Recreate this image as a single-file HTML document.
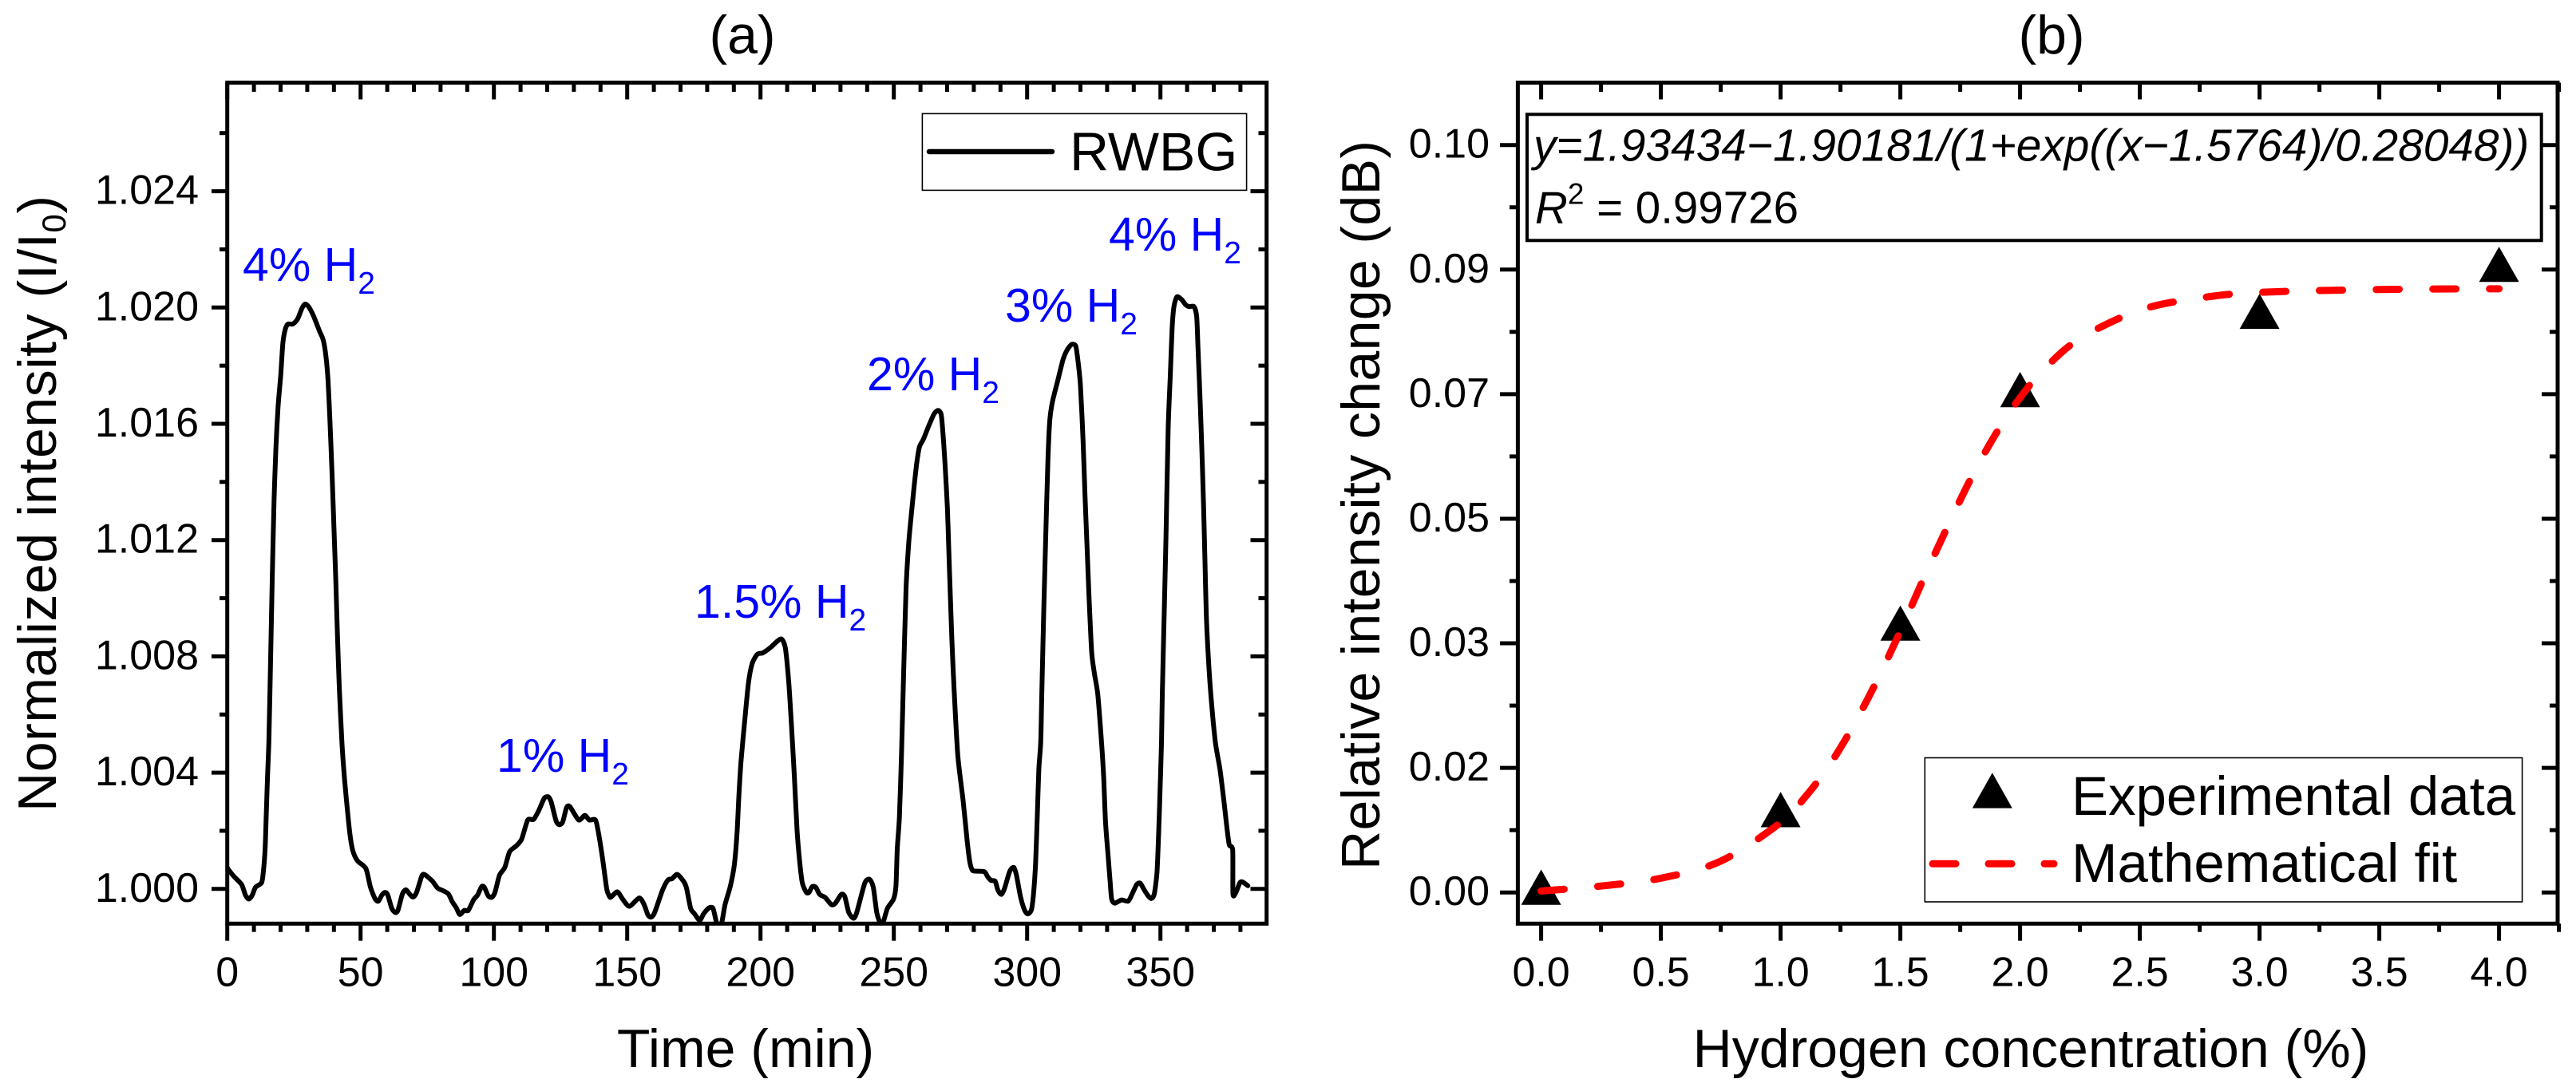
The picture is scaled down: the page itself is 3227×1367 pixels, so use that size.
<!DOCTYPE html>
<html lang="en">
<head>
<meta charset="utf-8">
<title>RWBG hydrogen response</title>
<style>
html,body{margin:0;padding:0;background:#fff;}
svg{display:block;}
text{font-family:"Liberation Sans",Arial,sans-serif;fill:#000;}
.tick{font-size:52px;}
.title{font-size:68px;}
.legend-text{font-size:69px;}
.blue{font-size:59px;fill:#0000ff;}
</style>
</head>
<body>
<svg id="chart" xmlns="http://www.w3.org/2000/svg" width="3227" height="1367" viewBox="0 0 3227 1367">
  <defs>
    <clipPath id="clip-a"><rect x="284.7" y="103.6" width="1302" height="1053.7"/></clipPath>
    <clipPath id="clip-b"><rect x="1901.4" y="103.6" width="1302.6" height="1053.7"/></clipPath>
  </defs>
  <rect x="0" y="0" width="3227" height="1367" fill="#fff"/>

  <g id="panel-a">
    <text class="title" x="930" y="67" text-anchor="middle">(a)</text>
    <g id="marks-a" clip-path="url(#clip-a)"></g>
    <g id="ticks-a"></g>
    <rect x="284.7" y="103.6" width="1302" height="1053.7" fill="none" stroke="#000" stroke-width="5"/>
    <text class="title" x="934" y="1337" text-anchor="middle">Time (min)</text>
    <text class="title" transform="translate(70 631) rotate(-90)" text-anchor="middle" textLength="772" lengthAdjust="spacing">Normalized intensity (I/I<tspan font-size="42" dy="12">0</tspan><tspan dy="-12">)</tspan></text>

    <text class="blue" x="304" y="352">4% H<tspan font-size="39" dy="16">2</tspan></text>
    <text class="blue" x="622" y="967">1% H<tspan font-size="39" dy="16">2</tspan></text>
    <text class="blue" x="870" y="774">1.5% H<tspan font-size="39" dy="16">2</tspan></text>
    <text class="blue" x="1086" y="489">2% H<tspan font-size="39" dy="16">2</tspan></text>
    <text class="blue" x="1259" y="403">3% H<tspan font-size="39" dy="16">2</tspan></text>
    <text class="blue" x="1389" y="314">4% H<tspan font-size="39" dy="16">2</tspan></text>

    <g>
      <rect x="1155.4" y="142.4" width="406.2" height="96" fill="none" stroke="#000" stroke-width="1.6"/>
      <line x1="1164" y1="190" x2="1318" y2="190" stroke="#000" stroke-width="6.5" stroke-linecap="round"/>
      <text class="title" x="1340" y="213.4">RWBG</text>
    </g>
  </g>

  <g id="panel-b">
    <text class="title" x="2570" y="67" text-anchor="middle">(b)</text>
    <g id="ticks-b"></g>
    <g id="marks-b" clip-path="url(#clip-b)"></g>
    <rect x="1901.4" y="103.6" width="1302.6" height="1053.7" fill="none" stroke="#000" stroke-width="5"/>
    <text class="title" x="2544" y="1337" text-anchor="middle">Hydrogen concentration (%)</text>
    <text class="title" transform="translate(1728 633) rotate(-90)" text-anchor="middle" textLength="914" lengthAdjust="spacing">Relative intensity change (dB)</text>

    <g>
      <rect x="1913" y="143.3" width="1270.7" height="158" fill="none" stroke="#000" stroke-width="4"/>
      <text x="1921" y="201.7" font-size="56.8" font-style="italic">y=1.93434−1.90181/(1+exp((x−1.5764)/0.28048))</text>
      <text x="1923" y="279.3" font-size="56.5"><tspan font-style="italic">R</tspan><tspan font-size="37" dy="-24">2</tspan><tspan dy="24"> = 0.99726</tspan></text>
    </g>

    <g>
      <rect x="2411.3" y="949.5" width="748.3" height="180.5" fill="none" stroke="#000" stroke-width="1.6"/>
      <polygon points="2495.8,968.3 2470.8,1012.6 2520.8,1012.6" fill="#000"/>
      <text class="legend-text" x="2595" y="1021">Experimental data</text>
      <line x1="2421" y1="1082.3" x2="2573" y2="1082.3" stroke="#ff0000" stroke-width="9" stroke-linecap="round" stroke-dasharray="29 41"/>
      <text class="legend-text" x="2595" y="1105">Mathematical fit</text>
    </g>
  </g>
</svg>

<script>
/* ---------- panel (a) data ---------- */
const rwbgTime = [
0,0.4,2.6,5.4,6.8,8.1,9.4,10.6,12.9,13.6,14.2,14.6,15.1,15.6,
16.05,16.86,17.55,18.26,19.05,20.05,20.85,21.75,22.75,24.55,26.35,28.05,29.2,30.5,32.35,34.5,36,37,37.8,38.5,39.3,40,40.7,41.3,42,
43,44,45.5,46.5,47.5,49,52,53.7,55.5,56.7,58,59.2,60.2,61.7,63,64,65.7,67,68.5,69.7,71,73,74.1,76.9,78.9,80.9,82.9,84.4,85.9,87.2,88.9,90.4,92.4,93.9,95.4,96.4,97.9,99.2,100.4,
102.1,104.1,105.9,108.4,110.4,112.7,114.9,116.9,118.9,120.4,121.5,123.3,124.5,125.8,127.3,128.6,131.8,134.1,135.8,138.1,139.3,140.8,142.3,143.1,143.8,146.3,148.3,
150.8,154.5,156.3,157.8,159,160.3,163.3,165.3,166.8,168.8,171.3,172.3,173.8,175.2,177.2,178.7,180.7,182.2,183.4,184,185.4,186.7,188.7,190.2,191.2,191.9,192.7,
194.2,195.5,196.9,198.8,200.9,203.7,205.8,207.8,209.3,210.6,211.6,212.7,213.7,214.7,215.7,217.2,218.2,219.4,220.7,222.2,224.2,226.6,228.1,230.3,231.6,233.1,234.9,236.1,239.1,240.9,242.3,243.6,244.9,245.9,247.6,249.9,250.8,251.3,252.1,252.9,
253.6,254.6,255.6,256.6,257.6,258.6,259.6,261.1,263.1,265.1,266.6,267.8,268.6,269.3,270.1,270.6,271.1,271.8,272.6,
274,276,277.5,278.5,279.5,281,284,285.2,286.5,288,289,290.3,291.5,293.5,295,296,297.5,299,300.2,301.6,302.4,303.2,303.9,304.4,305.1,
305.5,306.2,307,307.8,308.5,309.5,311.5,313.5,315,316.7,318.2,319,320,321,321.7,322.5,323.2,324.2,325.2,326.5,
327.9,328.7,329.4,330.4,331.1,331.7,332.9,335.4,337.9,339.4,341.1,342.4,343.9,345.4,346.6,347.7,348.7,349.3,349.8,350.4,
350.7,351.4,352.1,352.9,353.7,354.4,355.1,356.2,357.9,359.4,360.7,362.6,363.6,364.1,364.9,365.6,366.2,366.7,367.2,367.9,368.9,
370.6,372.3,373.8,374.8,375.8,377.1,377.2,378.3,379.8,380.8,382.8
];
const rwbgIntensity = [
1.00074,1.00067,1.00042,1.00015,.99979,.99965,.99979,1.00006,1.00022,1.00065,1.00139,1.00248,1.00386,1.00505,
1.00697,1.01063,1.01337,1.0152,1.01658,1.01767,1.01877,1.01925,1.01943,1.01943,1.0196,1.01998,1.02012,1.02003,1.01971,1.01921,1.01888,1.01833,1.01749,1.01612,1.01429,1.01246,1.01063,1.00881,1.00697,
1.00505,1.00376,1.0023,1.00157,1.0012,1.00095,1.0007,1.00006,.99965,.99958,.99979,.99988,.99979,.99933,.99919,.99926,.99983,.99997,.99981,.99972,.99988,1.00045,1.00049,1.00027,1.00003,.99994,.99983,.99956,.99935,.99912,.99926,.99926,.99963,.99979,1.00008,1.00006,.99976,.99971,.99988,
1.00047,1.00074,1.00128,1.00148,1.00171,1.00237,1.00239,1.00271,1.00312,1.00317,1.00299,1.00235,1.00221,1.0023,1.00281,1.00282,1.00237,1.00253,1.00237,1.00237,1.00189,1.00102,1.00001,.99979,.99971,.9999,.99965,
.9994,.99969,.99947,.9991,.99903,.99919,.99997,1.00031,1.00035,1.0005,1.00024,1.00001,.99933,.99915,.99892,.99915,.99935,.99933,.99887,.99873,.99882,.99946,1.0001,1.00084,1.00193,1.00322,1.0044,
1.0059,1.0071,1.00776,1.00807,1.00812,1.0083,1.00848,1.0086,1.0083,1.0071,1.00565,1.00386,1.00203,1.00093,1.0002,.99988,.99988,1.00008,1.00006,.99981,.99971,.99946,.99951,.99981,.99974,.99919,.99899,.99919,1.0002,1.00033,1.00006,.99919,.99882,.99882,.99933,.99965,1.0001,1.00139,1.00248,1.00469,
1.00714,1.01035,1.01191,1.01291,1.01383,1.01465,1.0152,1.01547,1.01593,1.01634,1.01646,1.0163,1.01547,1.01447,1.0131,1.01172,1.01035,1.00852,1.00688,
1.00459,1.00303,1.00166,1.00093,1.00064,1.00061,1.00059,1.00042,1.00029,1.00027,.99997,.99981,1.00001,1.00061,1.00074,1.00047,.99974,.99928,.99914,.99928,.99983,1.00093,1.00276,1.00413,1.00505,
1.00669,1.00944,1.01218,1.01475,1.01612,1.01676,1.01749,1.01822,1.01854,1.01873,1.01868,1.01822,1.01731,1.01538,1.01355,1.01172,1.01008,1.00816,1.00743,1.00669,
1.00505,1.00386,1.0023,1.00111,1.00029,.99965,.99951,.99962,.99958,.99983,1.00015,1.0002,.99997,.99976,.99967,.99983,1.00056,1.00184,1.00322,1.00505,
1.00669,1.00944,1.01218,1.01584,1.01767,1.01932,1.02005,1.02037,1.02028,1.0201,1.02003,1.02003,1.01968,1.01859,1.01676,1.01493,1.0131,1.01127,1.00944,1.00807,1.00669,
1.00505,1.00413,1.00303,1.00221,1.00152,1.00134,.99983,.99988,1.00021,1.00024,1.00011
];
const xTicksA = [0,50,100,150,200,250,300,350];
const xTickLabelsA = ["0","50","100","150","200","250","300","350"];
const xMinorTicksA = [10,20,30,40,60,70,80,90,110,120,130,140,160,170,180,190,210,220,230,240,260,270,280,290,310,320,330,340,360,370,380];
const yTicksA = [1.000,1.004,1.008,1.012,1.016,1.020,1.024];
const yTickLabelsA = ["1.000","1.004","1.008","1.012","1.016","1.020","1.024"];
const yMinorTicksA = [1.002,1.006,1.010,1.014,1.018,1.022,1.026];

/* ---------- panel (b) data ---------- */
const concentration = [0,1,1.5,2,3,4];
const relativeChange = [0,0.0109,0.0371,0.0699,0.0809,0.0875];
const fitConcentration = [0,0.25,0.5,0.75,1,1.1,1.2,1.3,1.4,1.5,1.6,1.7,1.8,1.9,2,2.1,2.25,2.5,2.75,3,3.5,4];
const fitChange = [0.0002,0.0009,0.002,0.0044,0.0098,0.0133,0.0177,0.0232,0.0296,0.0367,0.0443,0.0516,0.0585,0.0645,0.0695,0.0735,0.0778,0.0818,0.0835,0.0843,0.0847,0.0848];
const xTicksB = [0,0.5,1,1.5,2,2.5,3,3.5,4];
const xTickLabelsB = ["0.0","0.5","1.0","1.5","2.0","2.5","3.0","3.5","4.0"];
const xMinorTicksB = [0.25,0.75,1.25,1.75,2.25,2.75,3.25,3.75,4.25];
const yTicksB = [0,0.0175,0.035,0.0525,0.07,0.0875,0.105];
const yTickLabelsB = ["0.00","0.02","0.03","0.05","0.07","0.09","0.10"];
const yMinorTicksB = [0.00875,0.02625,0.04375,0.06125,0.07875,0.09625];

/* ---------- axis functions ---------- */
function xA(t){ return 284.7 + t * 3.34; }
function yA(v){ return 1113.8 - (v - 1) * 36425; }
function xB(c){ return 1930.6 + c * 300; }
function yB(v){ return 1118.2 - v * 8919; }

const SVG_NS = 'http://www.w3.org/2000/svg';
function mk(tag, attrs, parent){
  const n = document.createElementNS(SVG_NS, tag);
  for (const k in attrs) n.setAttribute(k, attrs[k]);
  parent.appendChild(n);
  return n;
}
function smoothPath(pts, f){
  let d = 'M' + pts[0][0].toFixed(2) + ' ' + pts[0][1].toFixed(2);
  for (let i = 0; i < pts.length - 1; i++){
    const p0 = pts[Math.max(i - 1, 0)], p1 = pts[i], p2 = pts[i + 1], p3 = pts[Math.min(i + 2, pts.length - 1)];
    d += 'C' + (p1[0] + (p2[0] - p0[0]) * f).toFixed(2) + ' ' + (p1[1] + (p2[1] - p0[1]) * f).toFixed(2) + ' ' +
         (p2[0] - (p3[0] - p1[0]) * f).toFixed(2) + ' ' + (p2[1] - (p3[1] - p1[1]) * f).toFixed(2) + ' ' +
         p2[0].toFixed(2) + ' ' + p2[1].toFixed(2);
  }
  return d;
}
function tickLine(parent, x1, y1, x2, y2, name){
  const l = mk('line', {x1:x1, y1:y1, x2:x2, y2:y2, stroke:'#000', 'stroke-width':5}, parent);
  
  
}
function tickText(parent, x, y, anchor, str, name){
  const t = mk('text', {x:x, y:y, 'text-anchor':anchor, 'class':'tick'}, parent);
  t.textContent = str;
  
  
}

/* ---------- panel (a) axes ---------- */
const ticksA = document.getElementById('ticks-a');
xTicksA.forEach(function(v, i){
  tickLine(ticksA, xA(v), 1157.3, xA(v), 1178.7, 'x-tick-a');
  tickLine(ticksA, xA(v), 103.6, xA(v), 124.5, 'x-tick-a-top');
  tickText(ticksA, xA(v), 1235.6, 'middle', xTickLabelsA[i], 'x-tick-label-a');
});
xMinorTicksA.forEach(function(v){
  tickLine(ticksA, xA(v), 1157.3, xA(v), 1167.7, 'x-minor-tick-a');
  tickLine(ticksA, xA(v), 103.6, xA(v), 115, 'x-minor-tick-a-top');
});
yTicksA.forEach(function(v, i){
  tickLine(ticksA, 265, yA(v), 284.7, yA(v), 'y-tick-a');
  tickLine(ticksA, 1566.5, yA(v), 1586.7, yA(v), 'y-tick-a-right');
  tickText(ticksA, 249, yA(v) + 16, 'end', yTickLabelsA[i], 'y-tick-label-a');
});
yMinorTicksA.forEach(function(v){
  tickLine(ticksA, 275, yA(v), 284.7, yA(v), 'y-minor-tick-a');
  tickLine(ticksA, 1576.5, yA(v), 1586.7, yA(v), 'y-minor-tick-a-right');
});

/* ---------- panel (a) series ---------- */
const marksA = document.getElementById('marks-a');
const rwbgCount = Math.min(rwbgTime.length, rwbgIntensity.length);
const rwbgPts = [];
for (let i = 0; i < rwbgCount; i++){ rwbgPts.push([xA(rwbgTime[i]), yA(rwbgIntensity[i])]); }
const rwbgLine = mk('path', {d:smoothPath(rwbgPts, 0.12), fill:'none', stroke:'#000', 'stroke-width':6, 'stroke-linejoin':'round', 'stroke-linecap':'round'}, marksA);



/* ---------- panel (b) axes ---------- */
const ticksB = document.getElementById('ticks-b');
xTicksB.forEach(function(v, i){
  tickLine(ticksB, xB(v), 1157.3, xB(v), 1178.7, 'x-tick-b');
  tickLine(ticksB, xB(v), 103.6, xB(v), 124.5, 'x-tick-b-top');
  tickText(ticksB, xB(v), 1235.6, 'middle', xTickLabelsB[i], 'x-tick-label-b');
});
xMinorTicksB.forEach(function(v){
  tickLine(ticksB, xB(v), 1157.3, xB(v), 1167.7, 'x-minor-tick-b');
  tickLine(ticksB, xB(v), 103.6, xB(v), 115, 'x-minor-tick-b-top');
});
yTicksB.forEach(function(v, i){
  tickLine(ticksB, 1879, yB(v), 1901.4, yB(v), 'y-tick-b');
  tickLine(ticksB, 3184, yB(v), 3204, yB(v), 'y-tick-b-right');
  tickText(ticksB, 1866, yB(v) + 16, 'end', yTickLabelsB[i], 'y-tick-label-b');
});
yMinorTicksB.forEach(function(v){
  tickLine(ticksB, 1891, yB(v), 1901.4, yB(v), 'y-minor-tick-b');
  tickLine(ticksB, 3194, yB(v), 3204, yB(v), 'y-minor-tick-b-right');
});

/* ---------- panel (b) series ---------- */
const marksB = document.getElementById('marks-b');
concentration.forEach(function(c, i){
  const cx = xB(c), cy = yB(relativeChange[i]);
  const tri = mk('polygon', {points:cx + ',' + (cy - 28.7) + ' ' + (cx - 25) + ',' + (cy + 15.5) + ' ' + (cx + 25) + ',' + (cy + 15.5), fill:'#000'}, marksB);
  
  
});
const fitPts = fitConcentration.map(function(c, i){ return [xB(c), yB(fitChange[i])]; });
const fitLine = mk('path', {d:smoothPath(fitPts, 1/6), fill:'none', stroke:'#ff0000', 'stroke-width':9, 'stroke-linecap':'round', 'stroke-dasharray':'29 42'}, marksB);


</script>
</body>
</html>
